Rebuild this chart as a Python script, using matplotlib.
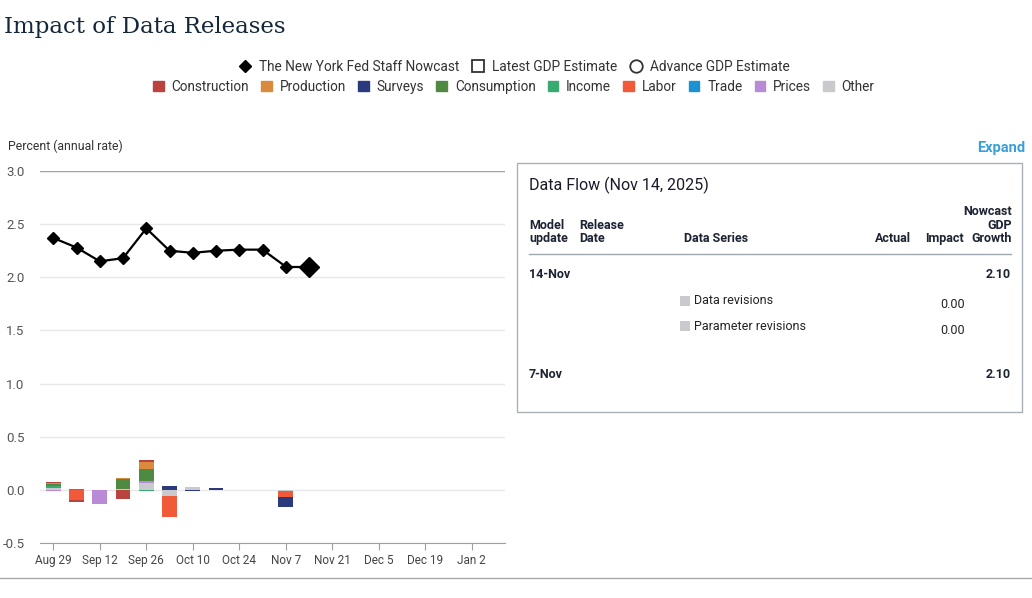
import numpy as np
import pandas as pd
import matplotlib
matplotlib.use('Agg')
import matplotlib.pyplot as plt
from matplotlib.lines import Line2D
from matplotlib.patches import Patch, Rectangle
from matplotlib import font_manager

_names = {f.name for f in font_manager.fontManager.ttflist}
NARROW = 'Liberation Sans Narrow' if 'Liberation Sans Narrow' in _names else 'Roboto'

###########################################
##### Data
###########################################

dates = pd.to_datetime(['2025-08-29', '2025-09-05', '2025-09-12', '2025-09-19',
                        '2025-09-26', '2025-10-03', '2025-10-10', '2025-10-17',
                        '2025-10-24', '2025-10-31', '2025-11-07', '2025-11-14'])
nowcast = [2.37, 2.28, 2.15, 2.18, 2.46, 2.25, 2.23, 2.25, 2.26, 2.26, 2.10, 2.10]

categories = ['Construction', 'Production', 'Surveys', 'Consumption', 'Income',
              'Labor', 'Trade', 'Prices', 'Other']
cat_colors = ['#b8433f', '#d98a3c', '#2b3a7c', '#4f8a43', '#3aab6f',
              '#f05a38', '#1c92d2', '#b98ad6', '#c9cacd']

# impact per data release week, same order as dates
impacts = {
    'Construction': [0.012, -0.010, 0, -0.090, 0.012, 0, 0, 0, 0, 0, 0, 0],
    'Production':   [0.006, 0, 0, 0.006, 0.070, 0, 0, 0, 0, 0, 0, 0],
    'Surveys':      [0, 0, 0, 0, 0, 0.035, -0.012, 0.022, 0, 0, -0.095, 0],
    'Consumption':  [0.022, 0, 0, 0.100, 0.115, 0, 0, 0, 0, 0, 0, 0],
    'Income':       [0.015, 0, 0, 0, -0.012, 0, 0, 0, 0, 0, 0, 0],
    'Labor':        [0, -0.100, 0, 0, 0, -0.195, 0, 0, 0, 0, -0.055, 0],
    'Trade':        [0, 0.010, 0, 0, 0, 0, 0, 0, 0, 0, 0, 0],
    'Prices':       [-0.015, 0, -0.130, 0, 0.020, 0, 0, 0, 0, 0, 0, 0],
    'Other':        [0.022, 0, 0, 0.006, 0.060, -0.060, 0.030, 0, -0.004, -0.003, -0.015, 0],
}

xticks = pd.date_range('2025-08-29', periods=10, freq='14D')
yticks = [-0.5, 0.0, 0.5, 1.0, 1.5, 2.0, 2.5, 3.0]

flow_title = 'Data Flow (Nov 14, 2025)'
flow_updates = ['14-Nov', '7-Nov']
flow_growth = ['2.10', '2.10']
revision_names = ['Data revisions', 'Parameter revisions']
revision_impacts = ['0.00', '0.00']

###########################################
##### Helpers
###########################################

W, H = 1032, 598

def fx(x):
    return x / W

def fy(y):
    return 1 - y / H

###########################################
##### Figure
###########################################

fig = plt.figure(figsize=(W / 100, H / 100), dpi=100)
ax = fig.add_axes([fx(40), fy(543), (505 - 40) / W, (543 - 171) / H])

# stacked bars
pos = np.zeros(len(dates))
neg = np.zeros(len(dates))
for cat in reversed(categories):
    vals = np.array(impacts[cat])
    col = cat_colors[categories.index(cat)]
    bottoms = np.where(vals >= 0, pos, neg)
    ax.bar(dates, vals, bottom=bottoms, width=4.4, color=col, linewidth=0, zorder=2)
    pos = pos + np.where(vals > 0, vals, 0)
    neg = neg + np.where(vals < 0, vals, 0)

ax.plot(dates[:-1], nowcast[:-1], color='black', lw=1.6, marker='D', ms=6.5, zorder=3)
ax.plot(dates[-2:], nowcast[-2:], color='black', lw=1.6, zorder=3)
ax.plot(dates[-1:], nowcast[-1:], color='black', marker='D', ms=10.5, ls='none', zorder=4)

ax.set_xlim(pd.Timestamp('2025-08-25'), pd.Timestamp('2026-01-12'))
ax.set_ylim(-0.5, 3.0)
ax.set_yticks(yticks)
ax.set_yticklabels([f'{v:.1f}' for v in yticks], family=NARROW)
ax.set_xticks(xticks)
ax.set_xticklabels([f'{d:%b} {d.day}' for d in xticks], family=NARROW)
ax.yaxis.grid(True, color='#e7e7e7', lw=1)
ax.axhline(3.0, color='#9aa6b2', lw=1, zorder=1)
ax.set_axisbelow(True)
for s in ['top', 'right', 'left']:
    ax.spines[s].set_visible(False)
ax.spines['bottom'].set_color('#a0a0a0')
ax.tick_params(axis='y', length=0, pad=11, labelsize=9.5, labelcolor='#555555')
ax.tick_params(axis='x', length=5, color='#a0a0a0', pad=3, labelsize=8.5, labelcolor='#444444')

# title and labels
fig.text(fx(4), fy(27), 'Impact of Data Releases', family='DejaVu Serif', size=16.5,
         color='#14263a', va='center')
fig.text(fx(8), fy(146), 'Percent (annual rate)', family=NARROW, size=8.8,
         color='#333333', va='center')
fig.text(fx(1025), fy(148), 'Expand', family=NARROW, size=10.5, weight='bold',
         color='#3a9fd6', ha='right', va='center')

# legends
h1 = [Line2D([], [], color='black', marker='D', ls='none', ms=6),
      Line2D([], [], color='#333333', marker='s', mfc='white', ls='none', ms=9, mew=1.3),
      Line2D([], [], color='#333333', marker='o', mfc='white', ls='none', ms=9, mew=1.3)]
l1 = ['The New York Fed Staff Nowcast', 'Latest GDP Estimate', 'Advance GDP Estimate']
leg1 = fig.legend(h1, l1, loc='center', bbox_to_anchor=(fx(514), fy(67)), ncol=3,
                  frameon=False, prop={'family': NARROW, 'size': 9.8},
                  handlelength=1.0, handletextpad=0.5, columnspacing=0.9)
for t in leg1.get_texts():
    t.set_color('#333333')

h2 = [Patch(color=c) for c in cat_colors]
leg2 = fig.legend(h2, categories, loc='center', bbox_to_anchor=(fx(514), fy(87)), ncol=9,
                  frameon=False, prop={'family': NARROW, 'size': 9.8},
                  handlelength=0.75, handleheight=0.75, handletextpad=0.6, columnspacing=0.9)
for t in leg2.get_texts():
    t.set_color('#333333')

# data flow box
fig.patches.append(Rectangle((fx(517), fy(412)), (1022 - 517) / W, (412 - 163) / H,
                             transform=fig.transFigure, fill=False, ec='#a9b0b8', lw=1))
fig.text(fx(529), fy(185), flow_title, family=NARROW, size=11.5, color='#1a1a2a', va='center')

hdr = dict(family=NARROW, size=9, weight='bold', color='#1c2333', va='bottom', linespacing=1.05)
fig.text(fx(529), fy(245), 'Model\nupdate', **hdr)
fig.text(fx(579), fy(245), 'Release\nDate', **hdr)
fig.text(fx(684), fy(245), 'Data Series', **hdr)
fig.text(fx(911), fy(245), 'Actual', ha='right', **hdr)
fig.text(fx(964), fy(245), 'Impact', ha='right', **hdr)
fig.text(fx(1012), fy(245), 'Nowcast\nGDP\nGrowth', ha='right', multialignment='right', **hdr)
fig.add_artist(Line2D([fx(529), fx(1011)], [fy(254), fy(254)], color='#a0a8b0', lw=1))

row = dict(family=NARROW, size=9, weight='bold', color='#1c2333', va='center')
fig.text(fx(529), fy(275), flow_updates[0], **row)
fig.text(fx(1011), fy(275), flow_growth[0], ha='right', **row)
for i, (nm, val) in enumerate(zip(revision_names, revision_impacts)):
    yy = 301 + 25 * i
    fig.patches.append(Rectangle((fx(680), fy(yy + 5)), 10 / W, 10 / H,
                                 transform=fig.transFigure, color='#c9cacd', lw=0))
    fig.text(fx(694), fy(yy), nm, family=NARROW, size=9, color='#222222', va='center')
    fig.text(fx(965), fy(yy + 4), val, family=NARROW, size=9, color='#222222',
             ha='right', va='center')
fig.text(fx(529), fy(375), flow_updates[1], **row)
fig.text(fx(1011), fy(375), flow_growth[1], ha='right', **row)

fig.add_artist(Line2D([0, 1], [fy(578), fy(578)], color='#aaaaaa', lw=1))

fig.savefig('out.png', dpi=100)
